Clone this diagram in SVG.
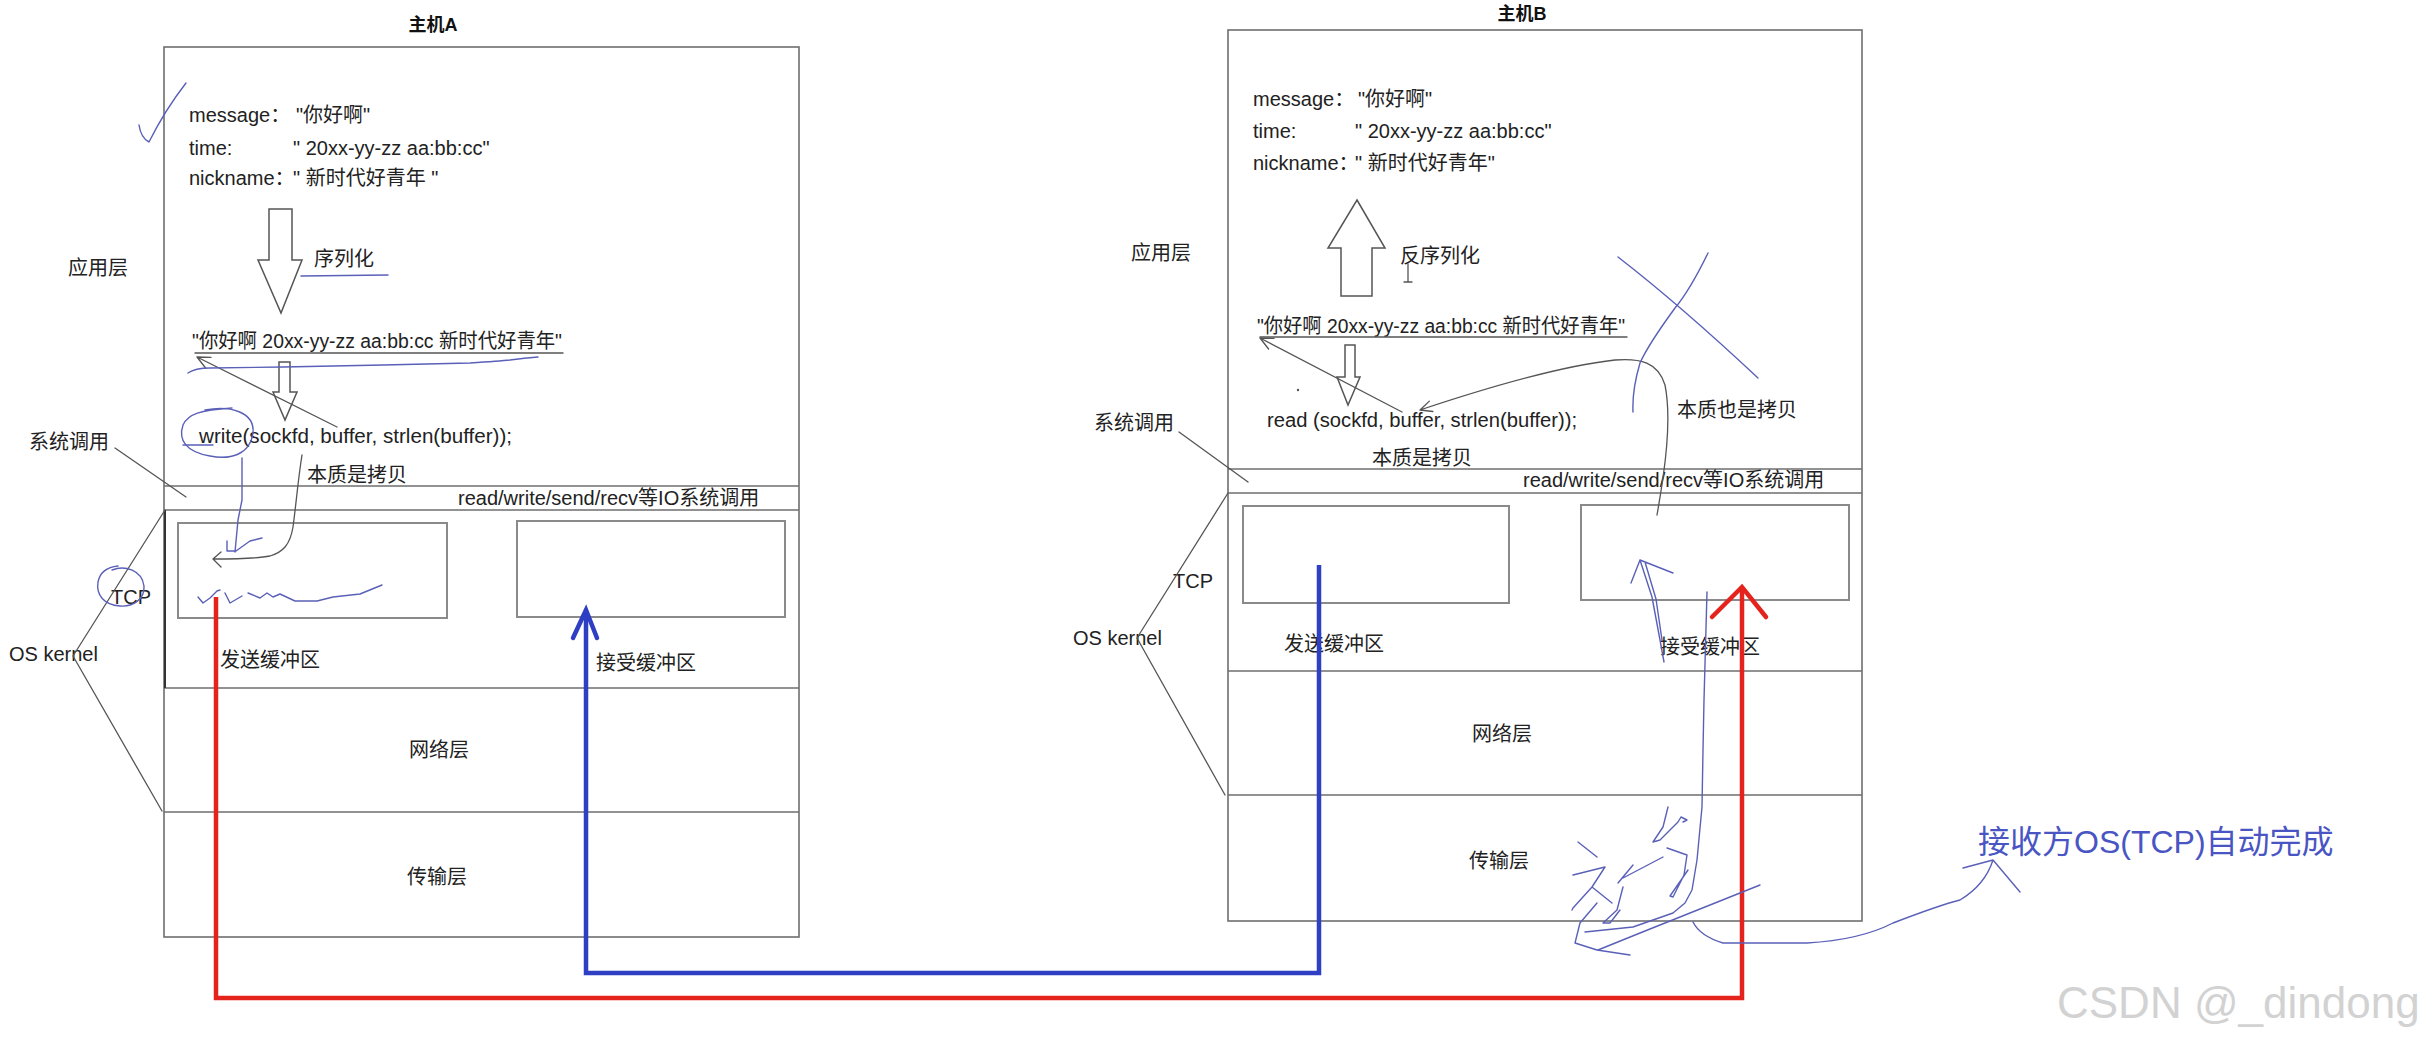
<svg xmlns="http://www.w3.org/2000/svg" width="2425" height="1043" viewBox="0 0 2425 1043">
<style>
.t{font-family:"Liberation Sans","Noto Sans CJK SC",sans-serif;font-size:20px;fill:#222}
.ttl{font-family:"Liberation Sans","Noto Sans CJK SC",sans-serif;font-size:18px;font-weight:bold;fill:#111}
.box{fill:none;stroke:#6e6e6e;stroke-width:1.6}
.buf{fill:#fff;stroke:#8a8a8a;stroke-width:2}
.thin{fill:none;stroke:#555;stroke-width:1.3;stroke-linecap:round;stroke-linejoin:round}
.blk{fill:#fff;stroke:#555;stroke-width:1.5}
.pen{fill:none;stroke:#5a60b8;stroke-width:1.4;stroke-linecap:round;stroke-linejoin:round}
.red{fill:none;stroke:#e3231c;stroke-width:4.5;stroke-linejoin:miter}
.blue{fill:none;stroke:#2f3fc4;stroke-width:4.5;stroke-linejoin:miter}
</style>
<rect width="2425" height="1043" fill="#fff"/>

<!-- Host A -->
<g id="hostA">
  <text class="ttl" x="433" y="31" text-anchor="middle">主机A</text>
  <rect class="box" x="164" y="47" width="635" height="890"/>
  <line class="box" x1="164" y1="486" x2="799" y2="486"/>
  <line class="box" x1="164" y1="510" x2="799" y2="510"/>
  <line class="box" x1="164" y1="688" x2="799" y2="688"/>
  <line class="box" x1="164" y1="812" x2="799" y2="812"/>
  <line x1="165" y1="510" x2="165" y2="688" stroke="#333" stroke-width="2"/>
  <text class="t" x="189" y="122">message：</text>
  <text class="t" x="296" y="122">"你好啊"</text>
  <text class="t" x="189" y="155">time:</text>
  <text class="t" x="293" y="155">" 20xx-yy-zz aa:bb:cc"</text>
  <text class="t" x="189" y="185">nickname：</text>
  <text class="t" x="293" y="185">" 新时代好青年 "</text>
  <polygon class="blk" points="269,209 292,209 292,260 302,260 281,313 258,260 269,260"/>
  <text class="t" x="314" y="266">序列化</text>
  <text class="t" x="192" y="348" textLength="370" lengthAdjust="spacingAndGlyphs">"你好啊 20xx-yy-zz aa:bb:cc 新时代好青年"</text>
  <line class="thin" x1="195" y1="353" x2="563" y2="353"/>
  <polygon class="blk" points="279,362 290,362 290,392 297,392 285,420 273,392 279,392"/>
  <text class="t" x="199" y="443" textLength="313" lengthAdjust="spacingAndGlyphs">write(sockfd, buffer, strlen(buffer));</text>
  <text class="t" x="307" y="482">本质是拷贝</text>
  <text class="t" x="458" y="505">read/write/send/recv等IO系统调用</text>
  <text class="t" x="68" y="275">应用层</text>
  <text class="t" x="29" y="449">系统调用</text>
  <text class="t" x="111" y="604">TCP</text>
  <text class="t" x="9" y="661">OS kernel</text>
  <rect class="buf" x="178" y="523" width="269" height="95"/>
  <rect class="buf" x="517" y="521" width="268" height="96"/>
  <text class="t" x="220" y="667">发送缓冲区</text>
  <text class="t" x="596" y="670">接受缓冲区</text>
  <text class="t" x="439" y="757" text-anchor="middle">网络层</text>
  <text class="t" x="437" y="884" text-anchor="middle">传输层</text>
  <polyline class="thin" points="115,448 186,497"/>
  <polyline class="thin" points="165,510 73,656 162,811"/>
</g>

<!-- Host B -->
<g id="hostB">
  <text class="ttl" x="1522" y="20" text-anchor="middle">主机B</text>
  <rect class="box" x="1228" y="30" width="634" height="891"/>
  <line class="box" x1="1228" y1="469" x2="1862" y2="469"/>
  <line class="box" x1="1228" y1="493" x2="1862" y2="493"/>
  <line class="box" x1="1228" y1="671" x2="1862" y2="671"/>
  <line class="box" x1="1228" y1="795" x2="1862" y2="795"/>
  <text class="t" x="1253" y="106">message：</text>
  <text class="t" x="1358" y="106">"你好啊"</text>
  <text class="t" x="1253" y="138">time:</text>
  <text class="t" x="1355" y="138">" 20xx-yy-zz aa:bb:cc"</text>
  <text class="t" x="1253" y="170">nickname：</text>
  <text class="t" x="1355" y="170">" 新时代好青年"</text>
  <polygon class="blk" points="1357,200 1385,248 1372,248 1372,296 1341,296 1341,248 1328,248"/>
  <text class="t" x="1400" y="263">反序列化</text>
  <path class="thin" d="M1408,264 V282 M1404,282 H1412"/>
  <text class="t" x="1257" y="333" textLength="368" lengthAdjust="spacingAndGlyphs">"你好啊 20xx-yy-zz aa:bb:cc 新时代好青年"</text>
  <line class="thin" x1="1260" y1="337" x2="1627" y2="337"/>
  <polygon class="blk" points="1345,345 1355,345 1355,377 1360,377 1348,405 1337,377 1345,377"/>
  <circle cx="1298" cy="390" r="1.2" fill="#555"/>
  <text class="t" x="1267" y="427" textLength="310" lengthAdjust="spacingAndGlyphs">read (sockfd, buffer, strlen(buffer));</text>
  <text class="t" x="1372" y="465">本质是拷贝</text>
  <text class="t" x="1677" y="417">本质也是拷贝</text>
  <text class="t" x="1523" y="487">read/write/send/recv等IO系统调用</text>
  <text class="t" x="1131" y="260">应用层</text>
  <text class="t" x="1094" y="430">系统调用</text>
  <text class="t" x="1173" y="588">TCP</text>
  <text class="t" x="1073" y="645">OS kernel</text>
  <rect class="buf" x="1243" y="506" width="266" height="97"/>
  <rect class="buf" x="1581" y="505" width="268" height="95"/>
  <text class="t" x="1284" y="651">发送缓冲区</text>
  <text class="t" x="1660" y="654">接受缓冲区</text>
  <text class="t" x="1502" y="741" text-anchor="middle">网络层</text>
  <text class="t" x="1499" y="868" text-anchor="middle">传输层</text>
  <polyline class="thin" points="1179,432 1248,482"/>
  <polyline class="thin" points="1228,493 1137,638 1225,795"/>
</g>

<!-- Annotation -->
<g id="note">
  <text x="1978" y="853" font-family="'Liberation Sans','Noto Sans CJK SC',sans-serif" font-size="32" fill="#4a55c4">接收方OS(TCP)自动完成</text>
</g>
<g id="watermark">
  <text x="2057" y="1018" font-family="'Liberation Sans',sans-serif" font-size="44" fill="#d2d2d2">CSDN @_dindong</text>
</g>

<!-- Connectors -->
<g id="connectors">
  <path class="thin" d="M337,427 L197,357 M205.6,368 L197,357 L211,357.4"/>
  <path class="thin" d="M302,455 C298,480 296,505 293,527 C290,545 283,552 270,556 C255,559 235,559 213,559 M221,552 L213,559 L221,567"/>
  <path class="thin" d="M1402,412 L1260,338 M1268.6,349 L1260,338 L1274,338.4"/>
  <path class="thin" d="M1657,515 C1665,470 1672,420 1665,385 C1658,362 1640,358 1615,360 C1560,366 1480,390 1420,410 M1432.9,411.5 L1420,410 L1429.4,401.1"/>
  <polyline class="red" points="216,597 216,998 1742,998 1742,590"/>
  <polyline class="red" points="1712,617 1742,587 1766,617" stroke-linecap="round"/>
  <polyline class="blue" points="1319,565 1319,973 586,973 586,614"/>
  <polyline class="blue" points="573,638 586,610 597,638" stroke-linecap="round"/>
</g>

<!-- Hand-drawn pen marks -->
<g id="pen">
  <path class="pen" d="M139,125 Q141,138 149,142 Q165,110 186,83"/>
  <path class="pen" d="M301,276 L388,275"/>
  <path class="pen" d="M188,373 Q195,368 210,368 L283,367 L383,365 L470,363 Q500,361 510,360 Q525,358 538,357"/>
  <path class="pen" d="M205,410 C230,405 255,412 253,433 C250,455 230,460 210,456 C186,452 178,440 183,425 C188,414 200,410 232,408"/>
  <path class="pen" d="M183,445 L213,445"/>
  <path class="pen" d="M242,458 L242,500 L238,520 L235,552 M227,541 L227,551 L236,551 L250,541 L262,538"/>
  <path class="pen" d="M198,597 L203,603 L210,598 L217,591 L220,590 M225,593 L230,603 L242,596 M248,593 L260,598 L267,593 L273,597 L280,594 L295,601 L317,601 L333,597 L360,594 L382,585"/>
  <path class="pen" d="M112,570 C125,565 142,570 144,586 C145,600 132,607 120,606 C104,605 96,595 98,582 C100,572 108,567 118,566"/>
  <path class="pen" d="M1618,257 Q1680,305 1758,378"/>
  <path class="pen" d="M1708,253 Q1690,290 1675,308 Q1648,345 1640,363 Q1632,390 1633,412"/>
  <path class="pen" d="M1631,583 L1640,560 L1673,573 M1640,560 L1652,597 L1660,640 L1664,662 M1645,562 L1656,599 L1662,640"/>
  <path class="pen" d="M1707,592 L1704,700 L1703,750 L1702,807 L1697,860 L1692,890 L1685,903 L1673,913 L1633,927 L1585,932"/>
  <path class="pen" d="M1693,922 Q1700,936 1723,943 L1807,943 Q1860,940 1893,923 Q1940,905 1960,900 Q1985,885 1993,860 M1963,868 L1993,860 L2020,892"/>
  <path class="pen" d="M1668,807 L1663,827 L1653,842 L1660,840 L1678,822 L1681,817 L1687,820 L1683,822"/>
  <path class="pen" d="M1667,848 L1687,855 L1684,875 L1673,897 L1670,896 L1688,870"/>
  <path class="pen" d="M1618,883 L1633,865 M1623,878 L1663,857"/>
  <path class="pen" d="M1578,842 L1597,857"/>
  <path class="pen" d="M1573,875 L1605,867 L1592,887 L1573,908 L1572,910 M1592,887 L1612,903"/>
  <path class="pen" d="M1623,887 L1617,910 L1603,923 L1610,923 L1620,910"/>
  <path class="pen" d="M1597,903 L1580,923 L1575,943 L1597,950 L1630,955"/>
  <path class="pen" d="M1598,950 L1640,933 L1760,885"/>
</g>
</svg>
